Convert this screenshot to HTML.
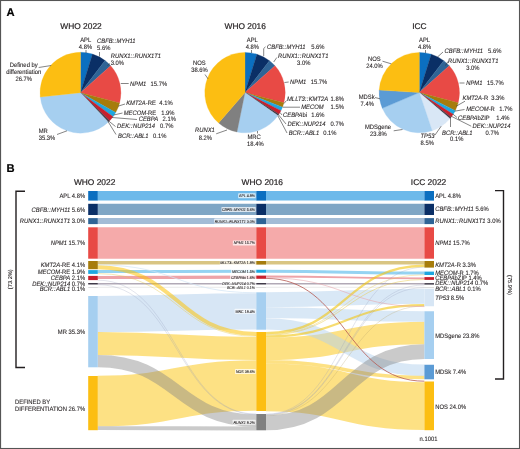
<!DOCTYPE html>
<html lang="en"><head><meta charset="utf-8"><title>AML classification: WHO 2022, WHO 2016, ICC 2022</title>
<style>html,body{margin:0;padding:0;background:#fff}body{width:520px;height:449px;overflow:hidden}svg{display:block}text{white-space:pre;text-rendering:geometricPrecision}</style></head>
<body>
<svg width="520" height="449" viewBox="0 0 520 449" font-family='"Liberation Sans", Arial, Helvetica, sans-serif'>
<rect x="0" y="0" width="520" height="449" fill="#fff"/>
<text transform="translate(6.40 16.00) scale(1.0 1)" font-size="11.2" text-anchor="start" font-weight="bold" fill="#000" stroke="#000" stroke-width="0.2">A</text>
<text transform="translate(6.60 172.00) scale(1.0 1)" font-size="11.2" text-anchor="start" font-weight="bold" fill="#000" stroke="#000" stroke-width="0.2">B</text>
<path d="M80.50,92.70L80.50,52.30A40.4,40.4 0 0 1 92.50,54.12Z" fill="#0b6fc0" stroke="#0b6fc0" stroke-width="0.3"/>
<path d="M80.50,92.70L92.50,54.12A40.4,40.4 0 0 1 105.06,60.62Z" fill="#0a2f66" stroke="#0a2f66" stroke-width="0.3"/>
<path d="M80.50,92.70L105.06,60.62A40.4,40.4 0 0 1 110.64,65.79Z" fill="#2f6496" stroke="#2f6496" stroke-width="0.3"/>
<path d="M80.50,92.70L110.64,65.79A40.4,40.4 0 0 1 119.57,102.99Z" fill="#e84a45" stroke="#e84a45" stroke-width="0.3"/>
<path d="M80.50,92.70L119.57,102.99A40.4,40.4 0 0 1 115.66,112.61Z" fill="#a67c0c" stroke="#a67c0c" stroke-width="0.3"/>
<path d="M80.50,92.70L115.66,112.61A40.4,40.4 0 0 1 113.03,116.65Z" fill="#1ea7e0" stroke="#1ea7e0" stroke-width="0.3"/>
<path d="M80.50,92.70L113.03,116.65A40.4,40.4 0 0 1 109.60,120.72Z" fill="#c8202d" stroke="#c8202d" stroke-width="0.3"/>
<path d="M80.50,92.70L109.60,120.72A40.4,40.4 0 0 1 108.34,121.98Z" fill="#403a49" stroke="#403a49" stroke-width="0.3"/>
<path d="M80.50,92.70L108.34,121.98A40.4,40.4 0 0 1 108.16,122.15Z" fill="#9a9a9a" stroke="#9a9a9a" stroke-width="0.3"/>
<path d="M80.50,92.70L108.16,122.15A40.4,40.4 0 0 1 40.33,97.01Z" fill="#a6cff0" stroke="#a6cff0" stroke-width="0.3"/>
<path d="M80.50,92.70L40.33,97.01A40.4,40.4 0 0 1 80.50,52.30Z" fill="#fcbe12" stroke="#fcbe12" stroke-width="0.3"/>
<path d="M245.00,92.60L245.00,52.40A40.2,40.2 0 0 1 256.94,54.21Z" fill="#0b6fc0" stroke="#0b6fc0" stroke-width="0.3"/>
<path d="M245.00,92.60L256.94,54.21A40.2,40.2 0 0 1 269.44,60.68Z" fill="#0a2f66" stroke="#0a2f66" stroke-width="0.3"/>
<path d="M245.00,92.60L269.44,60.68A40.2,40.2 0 0 1 274.99,65.83Z" fill="#2f6496" stroke="#2f6496" stroke-width="0.3"/>
<path d="M245.00,92.60L274.99,65.83A40.2,40.2 0 0 1 283.87,102.84Z" fill="#e84a45" stroke="#e84a45" stroke-width="0.3"/>
<path d="M245.00,92.60L283.87,102.84A40.2,40.2 0 0 1 282.47,107.16Z" fill="#a67c0c" stroke="#a67c0c" stroke-width="0.3"/>
<path d="M245.00,92.60L282.47,107.16A40.2,40.2 0 0 1 280.93,110.63Z" fill="#1ea7e0" stroke="#1ea7e0" stroke-width="0.3"/>
<path d="M245.00,92.60L280.93,110.63A40.2,40.2 0 0 1 278.94,114.14Z" fill="#c8202d" stroke="#c8202d" stroke-width="0.3"/>
<path d="M245.00,92.60L278.94,114.14A40.2,40.2 0 0 1 277.96,115.61Z" fill="#403a49" stroke="#403a49" stroke-width="0.3"/>
<path d="M245.00,92.60L277.96,115.61A40.2,40.2 0 0 1 277.82,115.82Z" fill="#9a9a9a" stroke="#9a9a9a" stroke-width="0.3"/>
<path d="M245.00,92.60L277.82,115.82A40.2,40.2 0 0 1 236.97,131.99Z" fill="#a6cff0" stroke="#a6cff0" stroke-width="0.3"/>
<path d="M245.00,92.60L236.97,131.99A40.2,40.2 0 0 1 218.61,122.92Z" fill="#808080" stroke="#808080" stroke-width="0.3"/>
<path d="M245.00,92.60L218.61,122.92A40.2,40.2 0 0 1 245.00,52.40Z" fill="#fcbe12" stroke="#fcbe12" stroke-width="0.3"/>
<path d="M419.30,92.60L419.30,52.40A40.2,40.2 0 0 1 431.24,54.21Z" fill="#0b6fc0" stroke="#0b6fc0" stroke-width="0.3"/>
<path d="M419.30,92.60L431.24,54.21A40.2,40.2 0 0 1 443.74,60.68Z" fill="#0a2f66" stroke="#0a2f66" stroke-width="0.3"/>
<path d="M419.30,92.60L443.74,60.68A40.2,40.2 0 0 1 449.29,65.83Z" fill="#2f6496" stroke="#2f6496" stroke-width="0.3"/>
<path d="M419.30,92.60L449.29,65.83A40.2,40.2 0 0 1 458.17,102.84Z" fill="#e84a45" stroke="#e84a45" stroke-width="0.3"/>
<path d="M419.30,92.60L458.17,102.84A40.2,40.2 0 0 1 455.23,110.63Z" fill="#a67c0c" stroke="#a67c0c" stroke-width="0.3"/>
<path d="M419.30,92.60L455.23,110.63A40.2,40.2 0 0 1 453.11,114.35Z" fill="#1ea7e0" stroke="#1ea7e0" stroke-width="0.3"/>
<path d="M419.30,92.60L453.11,114.35A40.2,40.2 0 0 1 451.06,117.24Z" fill="#c8202d" stroke="#c8202d" stroke-width="0.3"/>
<path d="M419.30,92.60L451.06,117.24A40.2,40.2 0 0 1 449.95,118.61Z" fill="#403a49" stroke="#403a49" stroke-width="0.3"/>
<path d="M419.30,92.60L449.95,118.61A40.2,40.2 0 0 1 449.79,118.80Z" fill="#9a9a9a" stroke="#9a9a9a" stroke-width="0.3"/>
<path d="M419.30,92.60L449.79,118.80A40.2,40.2 0 0 1 432.20,130.67Z" fill="#d9e7f6" stroke="#d9e7f6" stroke-width="0.3"/>
<path d="M419.30,92.60L432.20,130.67A40.2,40.2 0 0 1 382.31,108.33Z" fill="#a6cff0" stroke="#a6cff0" stroke-width="0.3"/>
<path d="M419.30,92.60L382.31,108.33A40.2,40.2 0 0 1 379.18,90.08Z" fill="#5b9bd5" stroke="#5b9bd5" stroke-width="0.3"/>
<path d="M419.30,92.60L379.18,90.08A40.2,40.2 0 0 1 419.30,52.40Z" fill="#fcbe12" stroke="#fcbe12" stroke-width="0.3"/>
<text transform="translate(81.00 28.80) scale(1.0 1)" font-size="8.4" text-anchor="middle" fill="#231f20" stroke="#231f20" stroke-width="0.2">WHO 2022</text>
<text transform="translate(85.70 42.00) scale(0.92 1)" font-size="6.36" text-anchor="middle" fill="#231f20" stroke="#231f20" stroke-width="0.09">APL</text>
<text transform="translate(85.50 49.00) scale(0.92 1)" font-size="6.36" text-anchor="middle" fill="#231f20" stroke="#231f20" stroke-width="0.09">4.8%</text>
<path d="M86.00,50.00L86.00,53.00" fill="none" stroke="#333" stroke-width="0.6"/>
<text transform="translate(97.00 43.00) scale(0.92 1)" font-size="6.36" text-anchor="start" font-style="italic" fill="#231f20" stroke="#231f20" stroke-width="0.09">CBFB<tspan letter-spacing="0.36">::</tspan>MYH11</text>
<text transform="translate(97.00 50.30) scale(0.92 1)" font-size="6.36" text-anchor="start" fill="#231f20" stroke="#231f20" stroke-width="0.09">5.6%</text>
<path d="M99.50,52.00L99.50,56.50" fill="none" stroke="#333" stroke-width="0.6"/>
<text transform="translate(110.70 57.50) scale(0.92 1)" font-size="6.36" text-anchor="start" font-style="italic" fill="#231f20" stroke="#231f20" stroke-width="0.09">RUNX1<tspan letter-spacing="0.36">::</tspan>RUNX1T1</text>
<text transform="translate(110.70 64.60) scale(0.92 1)" font-size="6.36" text-anchor="start" fill="#231f20" stroke="#231f20" stroke-width="0.09">3.0%</text>
<path d="M110.00,63.50L107.50,65.50" fill="none" stroke="#333" stroke-width="0.6"/>
<text transform="translate(130.00 85.50) scale(0.92 1)" font-size="6.36" text-anchor="start" font-style="italic" fill="#231f20" stroke="#231f20" stroke-width="0.09">NPM1</text>
<text transform="translate(150.50 85.50) scale(0.92 1)" font-size="6.36" text-anchor="start" fill="#231f20" stroke="#231f20" stroke-width="0.09">15.7%</text>
<path d="M120.80,83.50L128.70,83.50" fill="none" stroke="#333" stroke-width="0.6"/>
<text transform="translate(126.20 104.50) scale(0.92 1)" font-size="6.36" text-anchor="start" fill="#231f20" stroke="#231f20" stroke-width="0.09" xml:space="preserve"><tspan font-style="italic">KMT2A</tspan><tspan>-RE</tspan></text>
<text transform="translate(159.30 104.50) scale(0.92 1)" font-size="6.36" text-anchor="start" fill="#231f20" stroke="#231f20" stroke-width="0.09">4.1%</text>
<path d="M118.00,106.20L125.00,104.00" fill="none" stroke="#333" stroke-width="0.6"/>
<text transform="translate(123.70 114.50) scale(0.92 1)" font-size="6.36" text-anchor="start" fill="#231f20" stroke="#231f20" stroke-width="0.09" xml:space="preserve"><tspan font-style="italic">MECOM</tspan><tspan>-RE</tspan></text>
<text transform="translate(161.20 114.50) scale(0.92 1)" font-size="6.36" text-anchor="start" fill="#231f20" stroke="#231f20" stroke-width="0.09">1.9%</text>
<path d="M113.70,115.00L122.50,113.00" fill="none" stroke="#333" stroke-width="0.6"/>
<text transform="translate(138.70 120.80) scale(0.92 1)" font-size="6.36" text-anchor="start" font-style="italic" fill="#231f20" stroke="#231f20" stroke-width="0.09">CEBPA</text>
<text transform="translate(162.50 120.80) scale(0.92 1)" font-size="6.36" text-anchor="start" fill="#231f20" stroke="#231f20" stroke-width="0.09">2.1%</text>
<path d="M112.00,117.50L137.00,119.50" fill="none" stroke="#333" stroke-width="0.6"/>
<text transform="translate(117.00 128.00) scale(0.92 1)" font-size="6.36" text-anchor="start" font-style="italic" fill="#231f20" stroke="#231f20" stroke-width="0.09">DEK<tspan letter-spacing="0.36">::</tspan>NUP214</text>
<text transform="translate(160.00 128.00) scale(0.92 1)" font-size="6.36" text-anchor="start" fill="#231f20" stroke="#231f20" stroke-width="0.09">0.7%</text>
<path d="M108.70,121.00L115.50,126.50" fill="none" stroke="#333" stroke-width="0.6"/>
<text transform="translate(118.00 137.50) scale(0.92 1)" font-size="6.36" text-anchor="start" font-style="italic" fill="#231f20" stroke="#231f20" stroke-width="0.09">BCR<tspan letter-spacing="0.36">::</tspan>ABL1</text>
<text transform="translate(153.00 137.50) scale(0.92 1)" font-size="6.36" text-anchor="start" fill="#231f20" stroke="#231f20" stroke-width="0.09">0.1%</text>
<path d="M108.00,121.50L116.00,134.50" fill="none" stroke="#333" stroke-width="0.6"/>
<text transform="translate(38.70 132.60) scale(0.92 1)" font-size="6.36" text-anchor="start" fill="#231f20" stroke="#231f20" stroke-width="0.09">MR</text>
<text transform="translate(38.70 139.70) scale(0.92 1)" font-size="6.36" text-anchor="start" fill="#231f20" stroke="#231f20" stroke-width="0.09">35.3%</text>
<path d="M67.00,130.80L57.00,134.50" fill="none" stroke="#333" stroke-width="0.6"/>
<text transform="translate(23.70 67.00) scale(0.92 1)" font-size="6.36" text-anchor="middle" fill="#231f20" stroke="#231f20" stroke-width="0.09">Defined by</text>
<text transform="translate(23.70 74.20) scale(0.92 1)" font-size="6.36" text-anchor="middle" fill="#231f20" stroke="#231f20" stroke-width="0.09">differentiation</text>
<text transform="translate(23.70 81.30) scale(0.92 1)" font-size="6.36" text-anchor="middle" fill="#231f20" stroke="#231f20" stroke-width="0.09">26.7%</text>
<path d="M38.70,67.50L51.20,65.50" fill="none" stroke="#333" stroke-width="0.6"/>
<text transform="translate(245.20 28.80) scale(1.0 1)" font-size="8.4" text-anchor="middle" fill="#231f20" stroke="#231f20" stroke-width="0.2">WHO 2016</text>
<text transform="translate(252.30 42.00) scale(0.92 1)" font-size="6.36" text-anchor="middle" fill="#231f20" stroke="#231f20" stroke-width="0.09">APL</text>
<text transform="translate(252.30 49.00) scale(0.92 1)" font-size="6.36" text-anchor="middle" fill="#231f20" stroke="#231f20" stroke-width="0.09">4.8%</text>
<path d="M251.50,50.00L251.50,53.00" fill="none" stroke="#333" stroke-width="0.6"/>
<text transform="translate(267.00 48.80) scale(0.92 1)" font-size="6.36" text-anchor="start" font-style="italic" fill="#231f20" stroke="#231f20" stroke-width="0.09">CBFB<tspan letter-spacing="0.36">::</tspan>MYH11</text>
<text transform="translate(311.20 48.80) scale(0.92 1)" font-size="6.36" text-anchor="start" fill="#231f20" stroke="#231f20" stroke-width="0.09">5.6%</text>
<path d="M263.70,56.00L263.70,48.50L265.50,46.80" fill="none" stroke="#333" stroke-width="0.6"/>
<text transform="translate(278.00 57.50) scale(0.92 1)" font-size="6.36" text-anchor="start" font-style="italic" fill="#231f20" stroke="#231f20" stroke-width="0.09">RUNX1<tspan letter-spacing="0.36">::</tspan>RUNX1T1</text>
<text transform="translate(297.00 65.00) scale(0.92 1)" font-size="6.36" text-anchor="start" fill="#231f20" stroke="#231f20" stroke-width="0.09">3.0%</text>
<path d="M273.70,62.00L276.80,57.50" fill="none" stroke="#333" stroke-width="0.6"/>
<text transform="translate(290.00 83.80) scale(0.92 1)" font-size="6.36" text-anchor="start" font-style="italic" fill="#231f20" stroke="#231f20" stroke-width="0.09">NPM1</text>
<text transform="translate(310.70 83.80) scale(0.92 1)" font-size="6.36" text-anchor="start" fill="#231f20" stroke="#231f20" stroke-width="0.09">15.7%</text>
<path d="M284.50,82.50L288.70,82.00" fill="none" stroke="#333" stroke-width="0.6"/>
<text transform="translate(287.00 100.80) scale(0.92 1)" font-size="6.36" text-anchor="start" font-style="italic" fill="#231f20" stroke="#231f20" stroke-width="0.09">MLLT3<tspan letter-spacing="0.36">::</tspan>KMT2A</text>
<text transform="translate(330.50 100.80) scale(0.92 1)" font-size="6.36" text-anchor="start" fill="#231f20" stroke="#231f20" stroke-width="0.09">1.8%</text>
<path d="M284.00,103.50L286.50,100.50" fill="none" stroke="#333" stroke-width="0.6"/>
<text transform="translate(301.20 108.80) scale(0.92 1)" font-size="6.36" text-anchor="start" font-style="italic" fill="#231f20" stroke="#231f20" stroke-width="0.09">MECOM</text>
<text transform="translate(330.50 108.80) scale(0.92 1)" font-size="6.36" text-anchor="start" fill="#231f20" stroke="#231f20" stroke-width="0.09">1.5%</text>
<path d="M283.00,107.20L300.00,107.20" fill="none" stroke="#333" stroke-width="0.6"/>
<text transform="translate(283.00 117.00) scale(0.92 1)" font-size="6.36" text-anchor="start" fill="#231f20" stroke="#231f20" stroke-width="0.09" xml:space="preserve"><tspan font-style="italic">CEBPA</tspan><tspan>bi</tspan></text>
<text transform="translate(311.20 117.00) scale(0.92 1)" font-size="6.36" text-anchor="start" fill="#231f20" stroke="#231f20" stroke-width="0.09">1.6%</text>
<path d="M280.00,112.50L282.00,115.00" fill="none" stroke="#333" stroke-width="0.6"/>
<text transform="translate(287.50 125.80) scale(0.92 1)" font-size="6.36" text-anchor="start" font-style="italic" fill="#231f20" stroke="#231f20" stroke-width="0.09">DEK<tspan letter-spacing="0.36">::</tspan>NUP214</text>
<text transform="translate(330.50 125.80) scale(0.92 1)" font-size="6.36" text-anchor="start" fill="#231f20" stroke="#231f20" stroke-width="0.09">0.7%</text>
<path d="M278.70,115.00L286.00,124.00" fill="none" stroke="#333" stroke-width="0.6"/>
<text transform="translate(288.70 134.50) scale(0.92 1)" font-size="6.36" text-anchor="start" font-style="italic" fill="#231f20" stroke="#231f20" stroke-width="0.09">BCR<tspan letter-spacing="0.36">::</tspan>ABL1</text>
<text transform="translate(323.20 134.50) scale(0.92 1)" font-size="6.36" text-anchor="start" fill="#231f20" stroke="#231f20" stroke-width="0.09">0.1%</text>
<path d="M278.00,116.00L287.00,133.00" fill="none" stroke="#333" stroke-width="0.6"/>
<text transform="translate(247.50 138.80) scale(0.92 1)" font-size="6.36" text-anchor="start" fill="#231f20" stroke="#231f20" stroke-width="0.09">MRC</text>
<text transform="translate(247.00 146.30) scale(0.92 1)" font-size="6.36" text-anchor="start" fill="#231f20" stroke="#231f20" stroke-width="0.09">18.4%</text>
<path d="M257.50,131.00L257.50,133.50" fill="none" stroke="#333" stroke-width="0.6"/>
<text transform="translate(195.00 132.00) scale(0.92 1)" font-size="6.36" text-anchor="start" font-style="italic" fill="#231f20" stroke="#231f20" stroke-width="0.09">RUNX1</text>
<text transform="translate(198.70 139.50) scale(0.92 1)" font-size="6.36" text-anchor="start" fill="#231f20" stroke="#231f20" stroke-width="0.09">8.2%</text>
<path d="M227.00,130.00L216.20,133.80" fill="none" stroke="#333" stroke-width="0.6"/>
<text transform="translate(193.00 64.50) scale(0.92 1)" font-size="6.36" text-anchor="start" fill="#231f20" stroke="#231f20" stroke-width="0.09">NOS</text>
<text transform="translate(191.20 71.80) scale(0.92 1)" font-size="6.36" text-anchor="start" fill="#231f20" stroke="#231f20" stroke-width="0.09">38.6%</text>
<path d="M205.00,74.50L208.00,78.80" fill="none" stroke="#333" stroke-width="0.6"/>
<text transform="translate(419.40 28.80) scale(1.0 1)" font-size="8.4" text-anchor="middle" fill="#231f20" stroke="#231f20" stroke-width="0.2">ICC</text>
<text transform="translate(424.60 42.00) scale(0.92 1)" font-size="6.36" text-anchor="middle" fill="#231f20" stroke="#231f20" stroke-width="0.09">APL</text>
<text transform="translate(424.60 49.00) scale(0.92 1)" font-size="6.36" text-anchor="middle" fill="#231f20" stroke="#231f20" stroke-width="0.09">4.8%</text>
<path d="M425.50,50.00L425.50,53.00" fill="none" stroke="#333" stroke-width="0.6"/>
<text transform="translate(444.50 53.00) scale(0.92 1)" font-size="6.36" text-anchor="start" font-style="italic" fill="#231f20" stroke="#231f20" stroke-width="0.09">CBFB<tspan letter-spacing="0.36">::</tspan>MYH11</text>
<text transform="translate(488.00 53.00) scale(0.92 1)" font-size="6.36" text-anchor="start" fill="#231f20" stroke="#231f20" stroke-width="0.09">5.6%</text>
<path d="M437.50,57.00L443.00,52.00" fill="none" stroke="#333" stroke-width="0.6"/>
<text transform="translate(448.00 62.50) scale(0.92 1)" font-size="6.36" text-anchor="start" font-style="italic" fill="#231f20" stroke="#231f20" stroke-width="0.09">RUNX1<tspan letter-spacing="0.36">::</tspan>RUNX1T1</text>
<text transform="translate(466.20 70.00) scale(0.92 1)" font-size="6.36" text-anchor="start" fill="#231f20" stroke="#231f20" stroke-width="0.09">3.0%</text>
<path d="M445.50,65.50L448.00,61.50" fill="none" stroke="#333" stroke-width="0.6"/>
<text transform="translate(466.20 85.00) scale(0.92 1)" font-size="6.36" text-anchor="start" font-style="italic" fill="#231f20" stroke="#231f20" stroke-width="0.09">NPM1</text>
<text transform="translate(487.00 85.00) scale(0.92 1)" font-size="6.36" text-anchor="start" fill="#231f20" stroke="#231f20" stroke-width="0.09">15.7%</text>
<path d="M459.50,83.00L464.50,83.00" fill="none" stroke="#333" stroke-width="0.6"/>
<text transform="translate(462.50 100.00) scale(0.92 1)" font-size="6.36" text-anchor="start" fill="#231f20" stroke="#231f20" stroke-width="0.09" xml:space="preserve"><tspan font-style="italic">KMT2A</tspan><tspan>-R</tspan></text>
<text transform="translate(491.20 100.00) scale(0.92 1)" font-size="6.36" text-anchor="start" fill="#231f20" stroke="#231f20" stroke-width="0.09">3.3%</text>
<path d="M456.20,106.20L465.00,101.20" fill="none" stroke="#333" stroke-width="0.6"/>
<text transform="translate(466.20 111.20) scale(0.92 1)" font-size="6.36" text-anchor="start" fill="#231f20" stroke="#231f20" stroke-width="0.09" xml:space="preserve"><tspan font-style="italic">MECOM</tspan><tspan>-R</tspan></text>
<text transform="translate(499.20 111.20) scale(0.92 1)" font-size="6.36" text-anchor="start" fill="#231f20" stroke="#231f20" stroke-width="0.09">1.7%</text>
<path d="M454.50,111.20L464.50,109.50" fill="none" stroke="#333" stroke-width="0.6"/>
<text transform="translate(458.00 120.00) scale(0.92 1)" font-size="6.36" text-anchor="start" fill="#231f20" stroke="#231f20" stroke-width="0.09" xml:space="preserve"><tspan font-style="italic">CEBPA</tspan><tspan>bZIP</tspan></text>
<text transform="translate(496.20 120.00) scale(0.92 1)" font-size="6.36" text-anchor="start" fill="#231f20" stroke="#231f20" stroke-width="0.09">1.4%</text>
<path d="M452.50,113.80L457.00,117.50" fill="none" stroke="#333" stroke-width="0.6"/>
<text transform="translate(472.50 128.00) scale(0.92 1)" font-size="6.36" text-anchor="start" font-style="italic" fill="#231f20" stroke="#231f20" stroke-width="0.09">DEK<tspan letter-spacing="0.36">::</tspan>NUP214</text>
<text transform="translate(485.50 134.50) scale(0.92 1)" font-size="6.36" text-anchor="start" fill="#231f20" stroke="#231f20" stroke-width="0.09">0.7%</text>
<path d="M451.20,116.20L471.20,126.20" fill="none" stroke="#333" stroke-width="0.6"/>
<text transform="translate(442.00 134.50) scale(0.92 1)" font-size="6.36" text-anchor="start" font-style="italic" fill="#231f20" stroke="#231f20" stroke-width="0.09">BCR<tspan letter-spacing="0.36">::</tspan>ABL1</text>
<text transform="translate(450.00 141.20) scale(0.92 1)" font-size="6.36" text-anchor="start" fill="#231f20" stroke="#231f20" stroke-width="0.09">0.1%</text>
<path d="M450.50,117.50L450.50,127.00" fill="none" stroke="#333" stroke-width="0.6"/>
<text transform="translate(420.50 137.50) scale(0.92 1)" font-size="6.36" text-anchor="start" font-style="italic" fill="#231f20" stroke="#231f20" stroke-width="0.09">TP53</text>
<text transform="translate(420.50 145.00) scale(0.92 1)" font-size="6.36" text-anchor="start" fill="#231f20" stroke="#231f20" stroke-width="0.09">8.5%</text>
<path d="M441.20,126.20L435.00,135.00" fill="none" stroke="#333" stroke-width="0.6"/>
<text transform="translate(365.00 128.80) scale(0.92 1)" font-size="6.36" text-anchor="start" fill="#231f20" stroke="#231f20" stroke-width="0.09">MDSgene</text>
<text transform="translate(370.00 136.20) scale(0.92 1)" font-size="6.36" text-anchor="start" fill="#231f20" stroke="#231f20" stroke-width="0.09">23.8%</text>
<path d="M402.50,129.50L393.70,130.80" fill="none" stroke="#333" stroke-width="0.6"/>
<text transform="translate(358.70 98.80) scale(0.92 1)" font-size="6.36" text-anchor="start" fill="#231f20" stroke="#231f20" stroke-width="0.09">MDSk</text>
<text transform="translate(360.50 105.50) scale(0.92 1)" font-size="6.36" text-anchor="start" fill="#231f20" stroke="#231f20" stroke-width="0.09">7.4%</text>
<path d="M375.00,97.50L380.00,98.80" fill="none" stroke="#333" stroke-width="0.6"/>
<text transform="translate(368.00 60.50) scale(0.92 1)" font-size="6.36" text-anchor="start" fill="#231f20" stroke="#231f20" stroke-width="0.09">NOS</text>
<text transform="translate(366.20 68.00) scale(0.92 1)" font-size="6.36" text-anchor="start" fill="#231f20" stroke="#231f20" stroke-width="0.09">24.0%</text>
<path d="M382.50,61.20L391.20,63.80" fill="none" stroke="#333" stroke-width="0.6"/>
<path d="M97.80,195.80C177.05,195.80 177.05,195.82 256.30,195.82" fill="none" stroke="#6db9ea" stroke-width="9.60" stroke-opacity="1.0"/>
<path d="M97.80,209.40C177.05,209.40 177.05,209.42 256.30,209.42" fill="none" stroke="#7fa6c5" stroke-width="11.20" stroke-opacity="1.0"/>
<path d="M97.80,221.10C177.05,221.10 177.05,221.12 256.30,221.12" fill="none" stroke="#a3bcd6" stroke-width="6.00" stroke-opacity="1.0"/>
<path d="M97.80,243.00C177.05,243.00 177.05,243.02 256.30,243.02" fill="none" stroke="#f5aaaa" stroke-width="31.40" stroke-opacity="1.0"/>
<path d="M97.80,262.80C177.05,262.80 177.05,262.82 256.30,262.82" fill="none" stroke="#d9c583" stroke-width="3.60" stroke-opacity="1.0"/>
<path d="M97.80,271.60C177.05,271.60 177.05,271.25 256.30,271.25" fill="none" stroke="#95d3f2" stroke-width="3.00" stroke-opacity="1.0"/>
<path d="M97.80,277.50C177.05,277.50 177.05,277.20 256.30,277.20" fill="none" stroke="#eda3a8" stroke-width="3.20" stroke-opacity="1.0"/>
<path d="M97.80,283.75C177.05,283.75 177.05,283.77 256.30,283.77" fill="none" stroke="#b1a9b6" stroke-width="1.50" stroke-opacity="1.0"/>
<path d="M97.80,287.25C177.05,287.25 177.05,287.27 256.30,287.27" fill="none" stroke="#d0d0d0" stroke-width="0.50" stroke-opacity="1.0"/>
<path d="M97.80,314.00C177.05,314.00 177.05,311.45 256.30,311.45" fill="none" stroke="#d7e6f5" stroke-width="36.25" stroke-opacity="1.0"/>
<path d="M97.80,264.95C177.05,264.95 177.05,292.75 256.30,292.75" fill="none" stroke="#d3e4f5" stroke-width="0.799999999999983" stroke-opacity="0.9"/>
<path d="M97.80,267.25C177.05,267.25 177.05,333.95 256.30,333.95" fill="none" stroke="#fbc30a" stroke-width="3.8999999999999773" stroke-opacity="0.55"/>
<path d="M97.80,273.60C177.05,273.60 177.05,336.30 256.30,336.30" fill="none" stroke="#e8c84a" stroke-width="0.7" stroke-opacity="0.6"/>
<path d="M97.80,343.40C177.05,343.40 177.05,348.45 256.30,348.45" fill="none" stroke="#fbc30a" stroke-width="23.05" stroke-opacity="0.5"/>
<path d="M97.80,401.00C177.05,401.00 177.05,385.55 256.30,385.55" fill="none" stroke="#fbc30a" stroke-width="50.45" stroke-opacity="0.5"/>
<path d="M97.80,361.05C177.05,361.05 177.05,420.60 256.30,420.60" fill="none" stroke="#858585" stroke-width="12.25" stroke-opacity="0.43"/>
<path d="M97.80,428.10C177.05,428.10 177.05,428.45 256.30,428.45" fill="none" stroke="#858585" stroke-width="3.95" stroke-opacity="0.43"/>
<path d="M97.80,280.20C177.05,280.20 177.05,414.10 256.30,414.10" fill="none" stroke="#8f98b8" stroke-width="0.5" stroke-opacity="0.5"/>
<path d="M97.80,284.70C177.05,284.70 177.05,414.50 256.30,414.50" fill="none" stroke="#8f98b8" stroke-width="0.5" stroke-opacity="0.5"/>
<path d="M266.00,195.80C345.20,195.80 345.20,195.82 424.40,195.82" fill="none" stroke="#6db9ea" stroke-width="9.60" stroke-opacity="1.0"/>
<path d="M266.00,209.40C345.20,209.40 345.20,209.42 424.40,209.42" fill="none" stroke="#7fa6c5" stroke-width="11.20" stroke-opacity="1.0"/>
<path d="M266.00,221.10C345.20,221.10 345.20,221.12 424.40,221.12" fill="none" stroke="#a3bcd6" stroke-width="6.00" stroke-opacity="1.0"/>
<path d="M266.00,243.00C345.20,243.00 345.20,243.02 424.40,243.02" fill="none" stroke="#f5aaaa" stroke-width="31.40" stroke-opacity="1.0"/>
<path d="M266.00,262.80C345.20,262.80 345.20,262.82 424.40,262.82" fill="none" stroke="#d9c583" stroke-width="3.60" stroke-opacity="1.0"/>
<path d="M266.00,271.25C345.20,271.25 345.20,273.10 424.40,273.10" fill="none" stroke="#95d3f2" stroke-width="3.00" stroke-opacity="1.0"/>
<path d="M266.00,276.50C345.20,276.50 345.20,278.30 424.40,278.30" fill="none" stroke="#eda3a8" stroke-width="1.80" stroke-opacity="1.0"/>
<path d="M266.00,283.75C345.20,283.75 345.20,283.85 424.40,283.85" fill="none" stroke="#b1a9b6" stroke-width="1.50" stroke-opacity="1.0"/>
<path d="M266.00,287.25C345.20,287.25 345.20,287.27 424.40,287.27" fill="none" stroke="#d0d0d0" stroke-width="0.50" stroke-opacity="1.0"/>
<path d="M266.00,348.80C345.20,348.80 345.20,333.00 424.40,333.00" fill="none" stroke="#fbc30a" stroke-width="22.40" stroke-opacity="0.5"/>
<path d="M266.00,361.80C345.20,361.80 345.20,377.55 424.40,377.55" fill="none" stroke="#fbc30a" stroke-width="3.55" stroke-opacity="0.5"/>
<path d="M266.00,387.30C345.20,387.30 345.20,406.10 424.40,406.10" fill="none" stroke="#fbc30a" stroke-width="47.80" stroke-opacity="0.5"/>
<path d="M266.00,299.80C345.20,299.80 345.20,296.32 424.40,296.32" fill="none" stroke="#b3d1ee" stroke-width="15.07" stroke-opacity="0.5"/>
<path d="M266.00,312.65C345.20,312.65 345.20,316.52 424.40,316.52" fill="none" stroke="#b3d1ee" stroke-width="10.62" stroke-opacity="0.5"/>
<path d="M266.00,323.85C345.20,323.85 345.20,370.27 424.40,370.27" fill="none" stroke="#b3d1ee" stroke-width="11.38" stroke-opacity="0.5"/>
<path d="M266.00,333.15C345.20,333.15 345.20,265.75 424.40,265.75" fill="none" stroke="#f2c716" stroke-width="2.299999999999983" stroke-opacity="0.62"/>
<path d="M266.00,334.60C345.20,334.60 345.20,274.80 424.40,274.80" fill="none" stroke="#e8c84a" stroke-width="0.6" stroke-opacity="0.6"/>
<path d="M266.00,335.10C345.20,335.10 345.20,279.50 424.40,279.50" fill="none" stroke="#e8c84a" stroke-width="0.8" stroke-opacity="0.6"/>
<path d="M266.00,336.50C345.20,336.50 345.20,305.12 424.40,305.12" fill="none" stroke="#f2c716" stroke-width="2.2250000000000227" stroke-opacity="0.62"/>
<path d="M266.00,414.20C345.20,414.20 345.20,267.20 424.40,267.20" fill="none" stroke="#8f98b8" stroke-width="0.5" stroke-opacity="0.5"/>
<path d="M266.00,414.60C345.20,414.60 345.20,285.00 424.40,285.00" fill="none" stroke="#8f98b8" stroke-width="0.5" stroke-opacity="0.5"/>
<path d="M266.00,415.00C345.20,415.00 345.20,287.60 424.40,287.60" fill="none" stroke="#8f98b8" stroke-width="0.5" stroke-opacity="0.5"/>
<path d="M266.00,415.40C345.20,415.40 345.20,306.00 424.40,306.00" fill="none" stroke="#b9a56a" stroke-width="0.5" stroke-opacity="0.6"/>
<path d="M266.00,422.95C345.20,422.95 345.20,351.60 424.40,351.60" fill="none" stroke="#858585" stroke-width="14.75" stroke-opacity="0.43"/>
<path d="M266.00,278.40C345.20,278.40 345.20,381.20 424.40,381.20" fill="none" stroke="#b55a52" stroke-width="0.95" stroke-opacity="0.85"/>
<path d="M266.00,277.80C345.20,277.80 345.20,306.60 424.40,306.60" fill="none" stroke="#e6a3aa" stroke-width="0.7" stroke-opacity="0.8"/>
<rect x="88.2" y="191.00" width="9.60" height="9.60" fill="#0b6fc0"/>
<rect x="88.2" y="203.80" width="9.60" height="11.20" fill="#0a2f66"/>
<rect x="88.2" y="218.10" width="9.60" height="6.00" fill="#2f6496"/>
<rect x="88.2" y="227.30" width="9.60" height="31.40" fill="#e84a45"/>
<rect x="88.2" y="261.00" width="9.60" height="8.20" fill="#a67c0c"/>
<rect x="88.2" y="270.10" width="9.60" height="3.80" fill="#1ea7e0"/>
<rect x="88.2" y="275.90" width="9.60" height="4.20" fill="#c8202d"/>
<rect x="88.2" y="283.00" width="9.60" height="1.50" fill="#403a49"/>
<rect x="88.2" y="287.00" width="9.60" height="0.35" fill="#9a9a9a"/>
<rect x="88.2" y="296.00" width="9.60" height="71.30" fill="#a6cff0"/>
<rect x="88.2" y="376.00" width="9.60" height="54.20" fill="#fcbe12"/>
<rect x="256.3" y="191.00" width="9.70" height="9.60" fill="#0b6fc0"/>
<rect x="256.3" y="203.80" width="9.70" height="11.20" fill="#0a2f66"/>
<rect x="256.3" y="218.10" width="9.70" height="6.00" fill="#2f6496"/>
<rect x="256.3" y="227.30" width="9.70" height="31.40" fill="#e84a45"/>
<rect x="256.3" y="261.00" width="9.70" height="3.60" fill="#a67c0c"/>
<rect x="256.3" y="269.75" width="9.70" height="3.00" fill="#1ea7e0"/>
<rect x="256.3" y="275.60" width="9.70" height="3.20" fill="#c8202d"/>
<rect x="256.3" y="283.00" width="9.70" height="1.50" fill="#403a49"/>
<rect x="256.3" y="287.00" width="9.70" height="0.35" fill="#9a9a9a"/>
<rect x="256.3" y="292.30" width="9.70" height="37.40" fill="#a6cff0"/>
<rect x="256.3" y="332.00" width="9.70" height="79.00" fill="#fcbe12"/>
<rect x="256.3" y="414.00" width="9.70" height="16.30" fill="#808080"/>
<rect x="424.4" y="191.00" width="9.60" height="9.60" fill="#0b6fc0"/>
<rect x="424.4" y="203.80" width="9.60" height="11.20" fill="#0a2f66"/>
<rect x="424.4" y="218.10" width="9.60" height="6.00" fill="#2f6496"/>
<rect x="424.4" y="227.30" width="9.60" height="31.40" fill="#e84a45"/>
<rect x="424.4" y="261.00" width="9.60" height="6.60" fill="#a67c0c"/>
<rect x="424.4" y="271.60" width="9.60" height="3.40" fill="#1ea7e0"/>
<rect x="424.4" y="277.10" width="9.60" height="2.80" fill="#c8202d"/>
<rect x="424.4" y="283.10" width="9.60" height="1.50" fill="#403a49"/>
<rect x="424.4" y="287.00" width="9.60" height="0.35" fill="#9a9a9a"/>
<rect x="424.4" y="288.75" width="9.60" height="17.50" fill="#d7e6f5"/>
<rect x="424.4" y="311.25" width="9.60" height="47.75" fill="#a6cff0"/>
<rect x="424.4" y="364.75" width="9.60" height="14.55" fill="#5b9bd5"/>
<rect x="424.4" y="381.50" width="9.60" height="48.70" fill="#fcbe12"/>
<text transform="translate(94.60 185.00) scale(1.0 1)" font-size="8.4" text-anchor="middle" fill="#231f20" stroke="#231f20" stroke-width="0.2">WHO 2022</text>
<text transform="translate(262.30 185.00) scale(1.0 1)" font-size="8.4" text-anchor="middle" fill="#231f20" stroke="#231f20" stroke-width="0.2">WHO 2016</text>
<text transform="translate(428.50 185.00) scale(1.0 1)" font-size="8.4" text-anchor="middle" fill="#231f20" stroke="#231f20" stroke-width="0.2">ICC 2022</text>
<text transform="translate(85.20 197.96) scale(0.92 1)" font-size="6.36" text-anchor="end" fill="#231f20" stroke="#231f20" stroke-width="0.09" xml:space="preserve"><tspan>APL 4.8%</tspan></text>
<text transform="translate(85.20 211.56) scale(0.92 1)" font-size="6.36" text-anchor="end" fill="#231f20" stroke="#231f20" stroke-width="0.09" xml:space="preserve"><tspan font-style="italic">CBFB<tspan letter-spacing="0.36">::</tspan>MYH11</tspan><tspan> 5.6%</tspan></text>
<text transform="translate(85.20 223.26) scale(0.92 1)" font-size="6.36" text-anchor="end" fill="#231f20" stroke="#231f20" stroke-width="0.09" xml:space="preserve"><tspan font-style="italic">RUNX1<tspan letter-spacing="0.36">::</tspan>RUNX1T1</tspan><tspan> 3.0%</tspan></text>
<text transform="translate(85.20 245.16) scale(0.92 1)" font-size="6.36" text-anchor="end" fill="#231f20" stroke="#231f20" stroke-width="0.09" xml:space="preserve"><tspan font-style="italic">NPM1</tspan><tspan> 15.7%</tspan></text>
<text transform="translate(85.20 266.56) scale(0.92 1)" font-size="6.36" text-anchor="end" fill="#231f20" stroke="#231f20" stroke-width="0.09" xml:space="preserve"><tspan font-style="italic">KMT2A</tspan><tspan>-RE 4.1%</tspan></text>
<text transform="translate(85.20 274.16) scale(0.92 1)" font-size="6.36" text-anchor="end" fill="#231f20" stroke="#231f20" stroke-width="0.09" xml:space="preserve"><tspan font-style="italic">MECOM</tspan><tspan>-RE 1.9%</tspan></text>
<text transform="translate(85.20 279.76) scale(0.92 1)" font-size="6.36" text-anchor="end" fill="#231f20" stroke="#231f20" stroke-width="0.09" xml:space="preserve"><tspan font-style="italic">CEBPA</tspan><tspan> 2.1%</tspan></text>
<text transform="translate(85.20 286.36) scale(0.92 1)" font-size="6.36" text-anchor="end" fill="#231f20" stroke="#231f20" stroke-width="0.09" xml:space="preserve"><tspan font-style="italic">DEK<tspan letter-spacing="0.36">::</tspan>NUP214</tspan><tspan> 0.7%</tspan></text>
<text transform="translate(85.20 290.96) scale(0.92 1)" font-size="6.36" text-anchor="end" fill="#231f20" stroke="#231f20" stroke-width="0.09" xml:space="preserve"><tspan font-style="italic">BCR<tspan letter-spacing="0.36">::</tspan>ABL1</tspan><tspan> 0.1%</tspan></text>
<text transform="translate(85.20 334.36) scale(0.92 1)" font-size="6.36" text-anchor="end" fill="#231f20" stroke="#231f20" stroke-width="0.09" xml:space="preserve"><tspan>MR 35.3%</tspan></text>
<text transform="translate(15.00 403.56) scale(0.92 1)" font-size="6.36" text-anchor="start" fill="#231f20" stroke="#231f20" stroke-width="0.09" xml:space="preserve"><tspan>DEFINED BY</tspan></text>
<text transform="translate(15.00 410.76) scale(0.92 1)" font-size="6.36" text-anchor="start" fill="#231f20" stroke="#231f20" stroke-width="0.09" xml:space="preserve"><tspan>DIFFERENTIATION 26.7%</tspan></text>
<text transform="translate(435.20 197.96) scale(0.92 1)" font-size="6.36" text-anchor="start" fill="#231f20" stroke="#231f20" stroke-width="0.09" xml:space="preserve"><tspan>APL 4.8%</tspan></text>
<text transform="translate(435.20 211.16) scale(0.92 1)" font-size="6.36" text-anchor="start" fill="#231f20" stroke="#231f20" stroke-width="0.09" xml:space="preserve"><tspan font-style="italic">CBFB<tspan letter-spacing="0.36">::</tspan>MYH11</tspan><tspan> 5.6%</tspan></text>
<text transform="translate(435.20 223.26) scale(0.92 1)" font-size="6.36" text-anchor="start" fill="#231f20" stroke="#231f20" stroke-width="0.09" xml:space="preserve"><tspan font-style="italic">RUNX1<tspan letter-spacing="0.36">::</tspan>RUNX1T1</tspan><tspan> 3.0%</tspan></text>
<text transform="translate(435.20 245.16) scale(0.92 1)" font-size="6.36" text-anchor="start" fill="#231f20" stroke="#231f20" stroke-width="0.09" xml:space="preserve"><tspan font-style="italic">NPM1</tspan><tspan> 15.7%</tspan></text>
<text transform="translate(435.20 266.76) scale(0.92 1)" font-size="6.36" text-anchor="start" fill="#231f20" stroke="#231f20" stroke-width="0.09" xml:space="preserve"><tspan font-style="italic">KMT2A</tspan><tspan>-R 3.3%</tspan></text>
<text transform="translate(435.20 275.16) scale(0.92 1)" font-size="6.36" text-anchor="start" fill="#231f20" stroke="#231f20" stroke-width="0.09" xml:space="preserve"><tspan font-style="italic">MECOM</tspan><tspan>-R 1.7%</tspan></text>
<text transform="translate(435.20 280.46) scale(0.92 1)" font-size="6.36" text-anchor="start" fill="#231f20" stroke="#231f20" stroke-width="0.09" xml:space="preserve"><tspan font-style="italic">CEBPA</tspan><tspan>bZIP 1.4%</tspan></text>
<text transform="translate(435.20 284.96) scale(0.92 1)" font-size="6.36" text-anchor="start" fill="#231f20" stroke="#231f20" stroke-width="0.09" xml:space="preserve"><tspan font-style="italic">DEK<tspan letter-spacing="0.36">::</tspan>NUP214</tspan><tspan> 0.7%</tspan></text>
<text transform="translate(435.20 290.76) scale(0.92 1)" font-size="6.36" text-anchor="start" fill="#231f20" stroke="#231f20" stroke-width="0.09" xml:space="preserve"><tspan font-style="italic">BCR<tspan letter-spacing="0.36">::</tspan>ABL1</tspan><tspan> 0.1%</tspan></text>
<text transform="translate(435.20 299.66) scale(0.92 1)" font-size="6.36" text-anchor="start" fill="#231f20" stroke="#231f20" stroke-width="0.09" xml:space="preserve"><tspan font-style="italic">TP53</tspan><tspan> 8.5%</tspan></text>
<text transform="translate(435.20 337.86) scale(0.92 1)" font-size="6.36" text-anchor="start" fill="#231f20" stroke="#231f20" stroke-width="0.09" xml:space="preserve"><tspan>MDSgene 23.8%</tspan></text>
<text transform="translate(435.20 373.76) scale(0.92 1)" font-size="6.36" text-anchor="start" fill="#231f20" stroke="#231f20" stroke-width="0.09" xml:space="preserve"><tspan>MDSk 7.4%</tspan></text>
<text transform="translate(435.20 408.66) scale(0.92 1)" font-size="6.36" text-anchor="start" fill="#231f20" stroke="#231f20" stroke-width="0.09" xml:space="preserve"><tspan>NOS 24.0%</tspan></text>
<text transform="translate(419.50 441.00) scale(0.92 1)" font-size="6.36" text-anchor="start" fill="#231f20" stroke="#231f20" stroke-width="0.09" xml:space="preserve"><tspan>n.1001</tspan></text>
<rect x="238.19" y="193.30" width="17.51" height="5.0" fill="#fff" fill-opacity="0.72" rx="0.6"/>
<text transform="translate(254.90 197.21) scale(0.92 1)" font-size="3.92" text-anchor="end" fill="#231f20" stroke="#231f20" stroke-width="0.09" xml:space="preserve"><tspan>APL 4.8%</tspan></text>
<rect x="221.48" y="206.90" width="34.22" height="5.0" fill="#fff" fill-opacity="0.72" rx="0.6"/>
<text transform="translate(254.90 210.81) scale(0.92 1)" font-size="3.92" text-anchor="end" fill="#231f20" stroke="#231f20" stroke-width="0.09" xml:space="preserve"><tspan font-style="italic">CBFB<tspan letter-spacing="0.22">::</tspan>MYH11</tspan><tspan> 5.6%</tspan></text>
<rect x="214.20" y="218.60" width="41.50" height="5.0" fill="#fff" fill-opacity="0.72" rx="0.6"/>
<text transform="translate(254.90 222.51) scale(0.92 1)" font-size="3.92" text-anchor="end" fill="#231f20" stroke="#231f20" stroke-width="0.09" xml:space="preserve"><tspan font-style="italic">RUNX1<tspan letter-spacing="0.22">::</tspan>RUNX1T1</tspan><tspan> 3.0%</tspan></text>
<rect x="232.84" y="240.50" width="22.86" height="5.0" fill="#fff" fill-opacity="0.72" rx="0.6"/>
<text transform="translate(254.90 244.41) scale(0.92 1)" font-size="3.92" text-anchor="end" fill="#231f20" stroke="#231f20" stroke-width="0.09" xml:space="preserve"><tspan font-style="italic">NPM1</tspan><tspan> 15.7%</tspan></text>
<rect x="219.88" y="260.30" width="35.82" height="5.0" fill="#fff" fill-opacity="0.72" rx="0.6"/>
<text transform="translate(254.90 264.21) scale(0.92 1)" font-size="3.92" text-anchor="end" fill="#231f20" stroke="#231f20" stroke-width="0.09" xml:space="preserve"><tspan font-style="italic">MLLT3<tspan letter-spacing="0.22">::</tspan>KMT2A</tspan><tspan> 1.8%</tspan></text>
<rect x="231.04" y="268.80" width="24.66" height="5.0" fill="#fff" fill-opacity="0.72" rx="0.6"/>
<text transform="translate(254.90 272.71) scale(0.92 1)" font-size="3.92" text-anchor="end" fill="#231f20" stroke="#231f20" stroke-width="0.09" xml:space="preserve"><tspan font-style="italic">MECOM</tspan><tspan> 1.5%</tspan></text>
<rect x="230.10" y="274.70" width="25.60" height="5.0" fill="#fff" fill-opacity="0.72" rx="0.6"/>
<text transform="translate(254.90 278.61) scale(0.92 1)" font-size="3.92" text-anchor="end" fill="#231f20" stroke="#231f20" stroke-width="0.09" xml:space="preserve"><tspan font-style="italic">CEBPA</tspan><tspan>bi 1.6%</tspan></text>
<rect x="221.81" y="281.10" width="33.89" height="5.0" fill="#fff" fill-opacity="0.72" rx="0.6"/>
<text transform="translate(254.90 285.01) scale(0.92 1)" font-size="3.92" text-anchor="end" fill="#231f20" stroke="#231f20" stroke-width="0.09" xml:space="preserve"><tspan font-style="italic">DEK<tspan letter-spacing="0.22">::</tspan>NUP214</tspan><tspan> 0.7%</tspan></text>
<rect x="226.42" y="285.50" width="29.28" height="5.0" fill="#fff" fill-opacity="0.72" rx="0.6"/>
<text transform="translate(254.90 289.41) scale(0.92 1)" font-size="3.92" text-anchor="end" fill="#231f20" stroke="#231f20" stroke-width="0.09" xml:space="preserve"><tspan font-style="italic">BCR<tspan letter-spacing="0.22">::</tspan>ABL1</tspan><tspan> 0.1%</tspan></text>
<rect x="234.65" y="308.70" width="21.05" height="5.0" fill="#fff" fill-opacity="0.72" rx="0.6"/>
<text transform="translate(254.90 312.61) scale(0.92 1)" font-size="3.92" text-anchor="end" fill="#231f20" stroke="#231f20" stroke-width="0.09" xml:space="preserve"><tspan>MRC 18.4%</tspan></text>
<rect x="235.05" y="369.00" width="20.65" height="5.0" fill="#fff" fill-opacity="0.72" rx="0.6"/>
<text transform="translate(254.90 372.91) scale(0.92 1)" font-size="3.92" text-anchor="end" fill="#231f20" stroke="#231f20" stroke-width="0.09" xml:space="preserve"><tspan>NOS 38.6%</tspan></text>
<rect x="232.64" y="419.70" width="23.06" height="5.0" fill="#fff" fill-opacity="0.72" rx="0.6"/>
<text transform="translate(254.90 423.61) scale(0.92 1)" font-size="3.92" text-anchor="end" fill="#231f20" stroke="#231f20" stroke-width="0.09" xml:space="preserve"><tspan font-style="italic">RUNX1</tspan><tspan> 8.2%</tspan></text>
<path d="M25.00,191.30L16.00,191.30L16.00,367.50L25.00,367.50" fill="none" stroke="#231f20" stroke-width="1.4"/>
<path d="M495.00,190.60L503.50,190.60L503.50,379.00L495.00,379.00" fill="none" stroke="#231f20" stroke-width="1.4"/>
<text transform="translate(12.4,279.2) rotate(-90)" font-size="5.7" text-anchor="middle" fill="#231f20" stroke="#231f20" stroke-width="0.09">(73.2%)</text>
<text transform="translate(508.2,285) rotate(90)" font-size="5.7" text-anchor="middle" fill="#231f20" stroke="#231f20" stroke-width="0.09">(75.9%)</text>
<rect x="0.55" y="0.5" width="518.95" height="448.0" fill="none" stroke="#555" stroke-width="1.1"/>
</svg>
</body></html>
